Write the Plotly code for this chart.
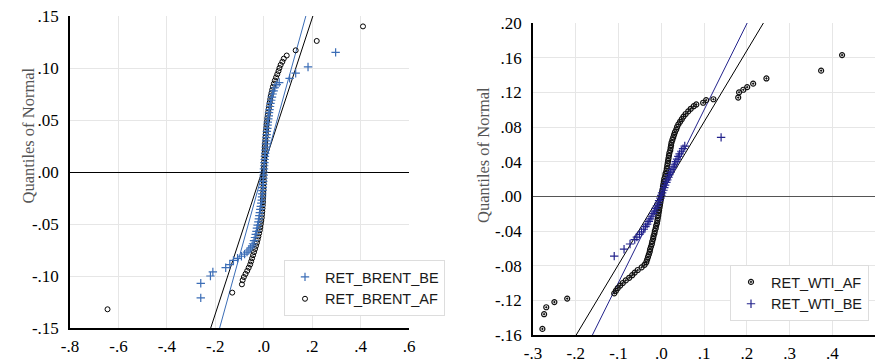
import plotly.graph_objects as go

# ---------------- data: left panel (BRENT) ----------------
brent_be_y = [-0.121, -0.107, -0.100, -0.096, -0.092, -0.089,
              -0.085, -0.083, -0.081, -0.079, -0.077, -0.075, -0.073, -0.071, -0.069, -0.066, -0.063,
              -0.060, -0.057, -0.054, -0.051, -0.048, -0.045, -0.042, -0.039, -0.036, -0.033, -0.030,
              -0.027, -0.024, -0.021, -0.018, -0.015, -0.012, -0.009, -0.006, -0.003, 0.000, 0.003,
              0.006, 0.009, 0.012, 0.015, 0.018, 0.021, 0.024, 0.027, 0.030, 0.033, 0.036, 0.039,
              0.042, 0.045, 0.048, 0.051, 0.054, 0.057, 0.060, 0.063, 0.066, 0.069, 0.072, 0.075,
              0.078, 0.081, 0.084, 0.086,
              0.090, 0.095, 0.101, 0.115]
brent_be_x = [-0.26, -0.26, -0.22, -0.21, -0.157, -0.14,
              -0.125, -0.108, -0.092, -0.079, -0.069, -0.061, -0.054, -0.048, -0.044, -0.040, -0.036,
              -0.033, -0.030, -0.028, -0.025, -0.022, -0.020, -0.018, -0.016, -0.014, -0.012, -0.010,
              -0.008, -0.007, -0.006, -0.005, -0.004, -0.003, -0.002, -0.001, 0.000, 0.000, 0.001,
              0.002, 0.003, 0.004, 0.005, 0.006, 0.007, 0.008, 0.009, 0.010, 0.011, 0.012, 0.013,
              0.015, 0.016, 0.017, 0.019, 0.021, 0.022, 0.024, 0.026, 0.028, 0.031, 0.034, 0.037,
              0.041, 0.046, 0.054, 0.064,
              0.107, 0.132, 0.183, 0.297]

brent_af_y = [-0.132, -0.116, -0.108, -0.104, -0.101, -0.098, -0.095, -0.092, -0.089, -0.086, -0.083,
              -0.080, -0.077, -0.074, -0.071, -0.068, -0.065, -0.062, -0.059, -0.056, -0.053, -0.050,
              -0.047, -0.044, -0.041, -0.038, -0.035, -0.032, -0.029, -0.026, -0.023, -0.020, -0.017,
              -0.014, -0.011, -0.008, -0.005, -0.002, 0.001, 0.004, 0.007, 0.010, 0.013, 0.016, 0.019,
              0.022, 0.025, 0.028, 0.031, 0.034, 0.037, 0.040, 0.043, 0.046, 0.049, 0.052, 0.055,
              0.058, 0.061, 0.064, 0.067, 0.070, 0.073, 0.076, 0.079, 0.082, 0.085, 0.088, 0.091,
              0.094, 0.097, 0.100, 0.103, 0.106, 0.109, 0.112, 0.117, 0.126, 0.140]
brent_af_x = [-0.645, -0.13, -0.09, -0.087, -0.082, -0.075, -0.068, -0.062, -0.056, -0.052, -0.048,
              -0.044, -0.040, -0.036, -0.032, -0.028, -0.025, -0.022, -0.019, -0.016, -0.014, -0.012,
              -0.010, -0.008, -0.007, -0.006, -0.005, -0.004, -0.003, -0.003, -0.002, -0.002, -0.001,
              -0.001, 0.000, 0.000, 0.000, 0.000, 0.001, 0.001, 0.002, 0.002, 0.003, 0.003, 0.004,
              0.005, 0.005, 0.006, 0.007, 0.008, 0.009, 0.010, 0.011, 0.012, 0.014, 0.015, 0.017,
              0.019, 0.021, 0.023, 0.025, 0.027, 0.029, 0.032, 0.035, 0.038, 0.042, 0.046, 0.051,
              0.056, 0.061, 0.065, 0.070, 0.077, 0.083, 0.095, 0.132, 0.219, 0.41]

brent_be_fit_x = [-0.182, 0.174]
brent_be_fit_y = [-0.15, 0.15]
brent_af_fit_x = [-0.219, 0.203]
brent_af_fit_y = [-0.15, 0.15]

# ---------------- data: right panel (WTI) ----------------
wti_af_y = [-0.153, -0.136, -0.128, -0.122, -0.118,
            -0.112, -0.109, -0.106, -0.103, -0.100, -0.097, -0.094, -0.091, -0.088, -0.085, -0.082,
            -0.079, -0.076, -0.073, -0.070, -0.067, -0.064, -0.061, -0.058, -0.055, -0.052, -0.049,
            -0.046, -0.043, -0.040, -0.037, -0.034, -0.031, -0.028, -0.025, -0.022, -0.019, -0.016,
            -0.013, -0.010, -0.007, -0.004, -0.001, 0.002, 0.005, 0.008, 0.011, 0.014, 0.017, 0.020,
            0.023, 0.026, 0.029, 0.032, 0.035, 0.038, 0.041, 0.044, 0.047, 0.050, 0.053, 0.056,
            0.059, 0.062, 0.065, 0.068, 0.071, 0.074, 0.077, 0.080, 0.083, 0.086, 0.089, 0.092,
            0.095, 0.098, 0.101, 0.104, 0.106,
            0.108, 0.111, 0.112, 0.114, 0.120, 0.123, 0.126, 0.130, 0.136, 0.145, 0.163]
wti_af_x = [-0.278, -0.274, -0.269, -0.25, -0.22,
            -0.110, -0.106, -0.102, -0.096, -0.090, -0.083, -0.075, -0.068, -0.062, -0.055, -0.046,
            -0.039, -0.035, -0.033, -0.031, -0.029, -0.027, -0.026, -0.024, -0.022, -0.021, -0.019,
            -0.018, -0.016, -0.015, -0.013, -0.012, -0.010, -0.009, -0.008, -0.007, -0.006, -0.005,
            -0.004, -0.003, -0.002, -0.001, 0.000, 0.001, 0.002, 0.003, 0.004, 0.005, 0.006, 0.007,
            0.009, 0.010, 0.012, 0.013, 0.014, 0.015, 0.016, 0.017, 0.018, 0.019, 0.021, 0.022,
            0.023, 0.024, 0.026, 0.028, 0.030, 0.032, 0.035, 0.037, 0.040, 0.044, 0.048, 0.052,
            0.057, 0.063, 0.069, 0.076, 0.082,
            0.098, 0.105, 0.122, 0.18, 0.182, 0.192, 0.201, 0.215, 0.246, 0.374, 0.423]

wti_be_y = [-0.069, -0.061, -0.055, -0.050, -0.047, -0.044, -0.041, -0.038, -0.035, -0.032, -0.029,
            -0.026, -0.023, -0.020, -0.017, -0.014, -0.011, -0.008, -0.005, -0.002, 0.001, 0.004,
            0.007, 0.010, 0.013, 0.016, 0.019, 0.022, 0.025, 0.028, 0.031, 0.034, 0.037, 0.040,
            0.043, 0.046, 0.049, 0.052, 0.055, 0.058, 0.068]
wti_be_x = [-0.11, -0.087, -0.073, -0.062, -0.057, -0.051, -0.046, -0.041, -0.037, -0.033, -0.029,
            -0.026, -0.022, -0.019, -0.016, -0.013, -0.010, -0.007, -0.005, -0.002, 0.000, 0.002,
            0.005, 0.007, 0.009, 0.012, 0.014, 0.017, 0.019, 0.022, 0.025, 0.028, 0.031, 0.034,
            0.037, 0.040, 0.043, 0.047, 0.051, 0.055, 0.14]

wti_be_fit_x = [-0.161, 0.201]
wti_be_fit_y = [-0.16, 0.20]
wti_af_fit_x = [-0.199, 0.239]
wti_af_fit_y = [-0.16, 0.20]

# ---------------- tick labels ----------------
l_xvals = [-0.8, -0.6, -0.4, -0.2, 0.0, 0.2, 0.4, 0.6]
l_xtext = ["-.8", "-.6", "-.4", "-.2", ".0", ".2", ".4", ".6"]
l_yvals = [-0.15, -0.10, -0.05, 0.0, 0.05, 0.10, 0.15]
l_ytext = ["-.15", "-.10", "-.05", ".00", ".05", ".10", ".15"]
r_xvals = [-0.3, -0.2, -0.1, 0.0, 0.1, 0.2, 0.3, 0.4, 0.5]
r_xtext = ["-.3", "-.2", "-.1", ".0", ".1", ".2", ".3", ".4", ".5"]
r_yvals = [-0.16, -0.12, -0.08, -0.04, 0.0, 0.04, 0.08, 0.12, 0.16, 0.20]
r_ytext = ["-.16", "-.12", "-.08", "-.04", ".00", ".04", ".08", ".12", ".16", ".20"]

BLUE = "#3b6db6"
NAVY = "#23238c"
W, H = 880, 362

fig = go.Figure()

# left panel
fig.add_trace(go.Scatter(x=brent_af_fit_x, y=brent_af_fit_y, mode="lines", xaxis="x", yaxis="y",
                         line=dict(color="black", width=1), showlegend=False, hoverinfo="skip"))
fig.add_trace(go.Scatter(x=brent_be_fit_x, y=brent_be_fit_y, mode="lines", xaxis="x", yaxis="y",
                         line=dict(color=BLUE, width=1), showlegend=False, hoverinfo="skip"))
fig.add_trace(go.Scatter(x=brent_af_x, y=brent_af_y, mode="markers", name="RET_BRENT_AF", xaxis="x", yaxis="y",
                         marker=dict(symbol="circle-open", size=5, color="black", line=dict(width=1)),
                         legend="legend", legendrank=2))
fig.add_trace(go.Scatter(x=brent_be_x, y=brent_be_y, mode="markers", name="RET_BRENT_BE", xaxis="x", yaxis="y",
                         marker=dict(symbol="cross-thin-open", size=6, color=BLUE, line=dict(width=1.2, color=BLUE)),
                         legend="legend", legendrank=1))

# right panel
fig.add_trace(go.Scatter(x=wti_af_fit_x, y=wti_af_fit_y, mode="lines", xaxis="x2", yaxis="y2",
                         line=dict(color="black", width=1), showlegend=False, hoverinfo="skip"))
fig.add_trace(go.Scatter(x=wti_be_fit_x, y=wti_be_fit_y, mode="lines", xaxis="x2", yaxis="y2",
                         line=dict(color=NAVY, width=1), showlegend=False, hoverinfo="skip"))
fig.add_trace(go.Scatter(x=wti_af_x, y=wti_af_y, mode="markers", name="RET_WTI_AF", xaxis="x2", yaxis="y2",
                         marker=dict(symbol="circle-open-dot", size=5, color="#111", line=dict(width=1.2)),
                         legend="legend2", legendrank=1))
fig.add_trace(go.Scatter(x=wti_be_x, y=wti_be_y, mode="markers", name="RET_WTI_BE", xaxis="x2", yaxis="y2",
                         marker=dict(symbol="cross-thin-open", size=6, color=NAVY, line=dict(width=1.2, color=NAVY)),
                         legend="legend2", legendrank=2))

tickfont = dict(family="Liberation Serif", size=17, color="black")
grid = "#e6e6e6"

def xax(domain, vals, text, rng, anchor):
    return dict(domain=domain, range=rng, tickvals=vals, ticktext=text, tickfont=tickfont,
                showgrid=True, gridcolor=grid, gridwidth=1, zeroline=False, showline=True,
                linecolor="black", linewidth=1.5, ticks="", anchor=anchor, fixedrange=True,
                automargin=False, ticklabelstandoff=2)

def yax(domain, vals, text, rng, anchor, zc):
    return dict(domain=domain, range=rng, tickvals=vals, ticktext=text, tickfont=tickfont,
                showgrid=True, gridcolor=grid, gridwidth=1, zeroline=True, zerolinecolor=zc,
                zerolinewidth=1.2, showline=True, linecolor="black", linewidth=1.5, ticks="",
                anchor=anchor, fixedrange=True, automargin=False, ticklabelstandoff=6)

legfont = dict(family="Liberation Sans", size=14.5, color="#1a1a1a")

fig.update_layout(
    width=W, height=H, margin=dict(l=0, r=0, t=0, b=0, autoexpand=False),
    paper_bgcolor="white", plot_bgcolor="white", hovermode=False,
    xaxis=xax([70 / W, 409 / W], l_xvals, l_xtext, [-0.8, 0.6], "y"),
    yaxis=yax([1 - 328 / H, 1 - 16 / H], l_yvals, l_ytext, [-0.15, 0.15], "x", "black"),
    xaxis2=xax([533 / W, 875 / W], r_xvals, r_xtext, [-0.3, 0.5], "y2"),
    yaxis2=yax([1 - 335 / H, 1 - 23 / H], r_yvals, r_ytext, [-0.16, 0.20], "x2", "#555555"),
    legend=dict(x=284 / W, y=1 - 260 / H, xanchor="left", yanchor="top", bgcolor="white",
                bordercolor="#dddddd", borderwidth=1, font=legfont, tracegroupgap=0),
    legend2=dict(x=730 / W, y=1 - 265 / H, xanchor="left", yanchor="top", bgcolor="white",
                 bordercolor="#dddddd", borderwidth=1, font=legfont, tracegroupgap=0),
    annotations=[
        dict(text="Quantiles of Normal", x=17 / W, y=1 - 136 / H, xref="paper", yref="paper",
             textangle=-90, showarrow=False, font=dict(family="Liberation Serif", size=16.5, color="#555")),
        dict(text="Quantiles of Normal", x=483 / W, y=1 - 155 / H, xref="paper", yref="paper",
             textangle=-90, showarrow=False, font=dict(family="Liberation Serif", size=16.5, color="#555")),
    ],
)

fig.write_html("out.html", config={"displayModeBar": False},
               post_script="document.body.style.margin='0';document.body.style.padding='0';")
